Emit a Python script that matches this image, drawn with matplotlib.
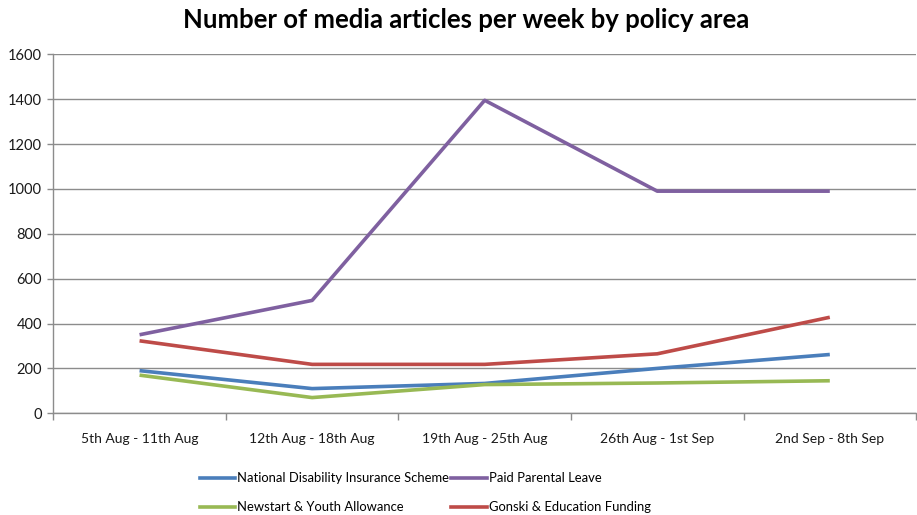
import matplotlib
matplotlib.use("Agg")
import matplotlib.pyplot as plt
from matplotlib.lines import Line2D

weeks = ["5th Aug - 11th Aug", "12th Aug - 18th Aug", "19th Aug - 25th Aug",
         "26th Aug - 1st Sep", "2nd Sep - 8th Sep"]
ndis = [190, 110, 133, 200, 262]
paid_parental = [350, 503, 1395, 990, 990]
newstart = [170, 70, 128, 135, 145]
gonski = [323, 218, 218, 265, 428]
y_ticks = [0, 200, 400, 600, 800, 1000, 1200, 1400, 1600]

plt.rcParams['font.family'] = ['Lato', 'DejaVu Sans']

fig = plt.figure(figsize=(9.17, 5.15), dpi=100)
ax = fig.add_axes([0.0581, 0.1975, 0.9409, 0.6971])

x = list(range(len(weeks)))
c_blue, c_purple, c_green, c_red = "#4A7EBB", "#7F60A0", "#98B954", "#BE4B48"
lw = 2.6
ax.plot(x, ndis, color=c_blue, lw=lw, solid_capstyle='butt', zorder=3)
ax.plot(x, paid_parental, color=c_purple, lw=lw, solid_capstyle='butt', zorder=3)
ax.plot(x, newstart, color=c_green, lw=lw, solid_capstyle='butt', zorder=3)
ax.plot(x, gonski, color=c_red, lw=lw, solid_capstyle='butt', zorder=3)

ax.set_xlim(-0.5, len(weeks) - 0.5)
ax.set_ylim(0, 1600)
ax.set_yticks(y_ticks)
ax.set_yticklabels([str(v) for v in y_ticks], fontsize=10.5, color="#1a1a1a")
ax.yaxis.grid(True, color="#8c8c8c", lw=1.0)
ax.set_axisbelow(True)

ax.set_xticks([i + 0.5 for i in range(len(weeks) - 1)] + [-0.5, len(weeks) - 0.5])
ax.set_xticklabels([])
ax.set_xticks(x, minor=True)
ax.set_xticklabels(weeks, minor=True, fontsize=10, color="#1a1a1a")
ax.tick_params(axis='x', which='major', length=5, color="#8c8c8c", width=1)
ax.tick_params(axis='x', which='minor', length=0, pad=14)
ax.tick_params(axis='y', length=4, color="#8c8c8c", width=1, pad=4)

for s in ['top', 'right']:
    ax.spines[s].set_visible(False)
for s in ['left', 'bottom']:
    ax.spines[s].set_color("#8c8c8c")
    ax.spines[s].set_linewidth(1.0)

fig.text(0.508, 0.962, "Number of media articles per week by policy area",
         ha='center', va='center', fontsize=18.5, fontweight='bold', color="#000000")

handles = [Line2D([], [], color=c_blue, lw=lw),
           Line2D([], [], color=c_green, lw=lw),
           Line2D([], [], color=c_purple, lw=lw),
           Line2D([], [], color=c_red, lw=lw)]
labels = ["National Disability Insurance Scheme", "Newstart & Youth Allowance",
          "Paid Parental Leave", "Gonski & Education Funding"]
fig.legend(handles, labels, ncol=2, loc='center left',
           bbox_to_anchor=(0.212, 0.043), frameon=False, fontsize=9.4,
           handlelength=2.7, handletextpad=0.15, columnspacing=0.2,
           labelspacing=1.3, borderaxespad=0)

fig.savefig("out.png", dpi=100)
